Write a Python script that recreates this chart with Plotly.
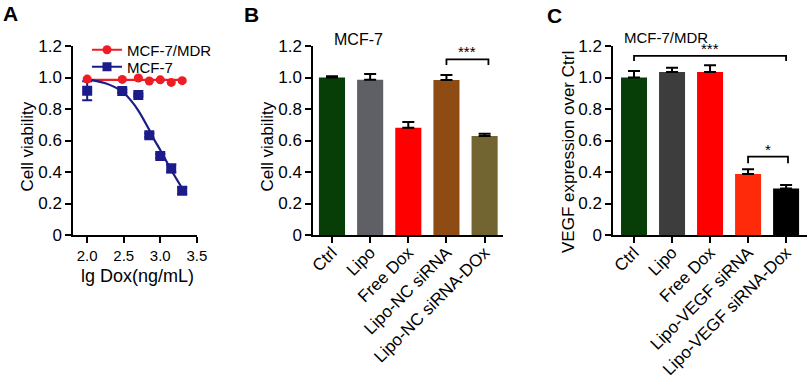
import plotly.graph_objects as go

FONT = "Arial, Liberation Sans, sans-serif"

# ---------------- Panel A data ----------------
lg_dox = [2.0, 2.48, 2.7, 2.85, 3.0, 3.15, 3.3]
mdr_viab = [0.99, 0.988, 0.997, 0.978, 0.985, 0.969, 0.98]
mdr_err = [0.005, 0.005, 0.005, 0.005, 0.005, 0.005, 0.005]
mcf7_viab = [0.916, 0.914, 0.889, 0.633, 0.502, 0.423, 0.281]
mcf7_err = [0.06, 0.01, 0.008, 0.012, 0.012, 0.025, 0.02]
# fitted curves
mcf7_fit_x = [2.0, 2.25, 2.48, 2.6, 2.7, 2.85, 2.92, 3.0, 3.15, 3.3]
mcf7_fit_y = [0.988, 0.963, 0.91, 0.853, 0.79, 0.667, 0.603, 0.54, 0.413, 0.297]
mdr_fit_x = [2.0, 3.3]
mdr_fit_y = [0.985, 0.985]

# ---------------- Panel B data ----------------
b_cats = ["Ctrl", "Lipo", "Free Dox", "Lipo-NC siRNA", "Lipo-NC siRNA-DOx"]
b_vals = [1.0, 0.985, 0.681, 0.984, 0.629]
b_errs = [0.008, 0.037, 0.036, 0.032, 0.014]
b_colors = ["#073d07", "#5f5f66", "#ff0000", "#8e4b14", "#736532"]

# ---------------- Panel C data ----------------
c_cats = ["Ctrl", "Lipo", "Free Dox", "Lipo-VEGF siRNA", "Lipo-VEGF siRNA-Dox"]
c_vals = [1.0, 1.035, 1.035, 0.387, 0.296]
c_errs = [0.042, 0.027, 0.042, 0.03, 0.021]
c_colors = ["#073d07", "#3d3d3d", "#ff0000", "#ff2a0a", "#000000"]

y_tickvals = [0, 0.2, 0.4, 0.6, 0.8, 1.0, 1.2]
y_ticktext = ["0", "0.2", "0.4", "0.6", "0.8", "1.0", "1.2"]
a_xtickvals = [2.0, 2.5, 3.0, 3.5]

RED = "#ee1c24"
BLUE = "#1b1b8a"

fig = go.Figure()

# Panel A
fig.add_trace(go.Scatter(x=mdr_fit_x, y=mdr_fit_y, mode="lines",
                         line=dict(color=RED, width=2.2), showlegend=False,
                         xaxis="x", yaxis="y", hoverinfo="skip"))
fig.add_trace(go.Scatter(x=mcf7_fit_x, y=mcf7_fit_y, mode="lines",
                         line=dict(color=BLUE, width=2.2, shape="spline"),
                         showlegend=False, xaxis="x", yaxis="y", hoverinfo="skip"))
fig.add_trace(go.Scatter(x=lg_dox, y=mcf7_viab, mode="markers",
                         marker=dict(symbol="square", size=10, color=BLUE),
                         error_y=dict(type="data", array=mcf7_err, color=BLUE,
                                      thickness=2, width=5),
                         showlegend=False, xaxis="x", yaxis="y"))
fig.add_trace(go.Scatter(x=lg_dox, y=mdr_viab, mode="markers",
                         marker=dict(symbol="circle", size=9, color=RED),
                         error_y=dict(type="data", array=mdr_err, color=RED,
                                      thickness=2, width=4),
                         showlegend=False, xaxis="x", yaxis="y"))
# legend entries
fig.add_trace(go.Scatter(x=[None], y=[None], mode="lines+markers", name="MCF-7/MDR",
                         line=dict(color=RED, width=2.2),
                         marker=dict(symbol="circle", size=9, color=RED),
                         xaxis="x", yaxis="y", legend="legend"))
fig.add_trace(go.Scatter(x=[None], y=[None], mode="lines+markers", name="MCF-7",
                         line=dict(color=BLUE, width=2.2),
                         marker=dict(symbol="square", size=9, color=BLUE),
                         xaxis="x", yaxis="y", legend="legend2"))

# Panel B
fig.add_trace(go.Bar(x=b_cats, y=b_vals, marker=dict(color=b_colors, line=dict(width=0)),
                     error_y=dict(type="data", array=b_errs, arrayminus=[0] * len(b_errs),
                                  color="black", thickness=2, width=6),
                     width=0.684, showlegend=False, xaxis="x2", yaxis="y2"))
# Panel C
fig.add_trace(go.Bar(x=c_cats, y=c_vals, marker=dict(color=c_colors, line=dict(width=0)),
                     error_y=dict(type="data", array=c_errs, arrayminus=[0] * len(c_errs),
                                  color="black", thickness=2, width=6),
                     width=0.684, showlegend=False, xaxis="x3", yaxis="y3"))

y0, y1 = (379 - 235) / 379, (379 - 46) / 379

common_y = dict(range=[0, 1.2], tickvals=y_tickvals, ticktext=y_ticktext,
                showline=True, linecolor="black", linewidth=2, ticks="outside",
                ticklen=6, tickwidth=2, tickcolor="black", showgrid=False,
                zeroline=False, tickfont=dict(size=17, color="black", family=FONT),
                domain=[y0, y1], automargin=False)
common_x = dict(showline=True, linecolor="black", linewidth=2, ticks="outside",
                ticklen=6, tickwidth=2, tickcolor="black", showgrid=False,
                zeroline=False, automargin=False)

fig.update_layout(
    width=810, height=379,
    margin=dict(l=0, r=0, t=0, b=0, pad=0, autoexpand=False),
    paper_bgcolor="white", plot_bgcolor="white",
    font=dict(family=FONT, color="black"),
    xaxis=dict(**common_x, range=[1.81, 3.5], tickvals=a_xtickvals,
               ticktext=["2.0", "2.5", "3.0", "3.5"],
               tickfont=dict(size=15, color="black", family=FONT),
               domain=[73.3 / 810, 196.8 / 810], anchor="y"),
    yaxis=dict(**common_y, anchor="x"),
    xaxis2=dict(**common_x, type="category", range=[-0.49, 4.49], tickangle=-45,
                tickfont=dict(size=17, color="black", family=FONT), ticklabelstandoff=-7,
                domain=[313.3 / 810, 503.3 / 810], anchor="y2"),
    yaxis2=dict(**common_y, anchor="x2"),
    xaxis3=dict(**common_x, type="category", range=[-0.545, 4.55], tickangle=-45,
                tickfont=dict(size=17, color="black", family=FONT), ticklabelstandoff=-7,
                domain=[613.3 / 810, 807 / 810], anchor="y3"),
    yaxis3=dict(**common_y, anchor="x3"),
    legend=dict(x=87 / 810, y=(379 - 50) / 379, xanchor="left", yanchor="middle",
                font=dict(size=15, color="black"), bgcolor="rgba(0,0,0,0)",
                itemwidth=30, tracegroupgap=0),
    legend2=dict(x=87 / 810, y=(379 - 67) / 379, xanchor="left", yanchor="middle",
                 font=dict(size=15, color="black"), bgcolor="rgba(0,0,0,0)",
                 itemwidth=30, tracegroupgap=0),
)

ann = []
# panel letters
for letter, px, py in [("A", 10, 14), ("B", 251.5, 14.5), ("C", 554, 15)]:
    ann.append(dict(text=f"<b>{letter}</b>", x=px / 810, y=1 - py / 379, xref="paper",
                    yref="paper", showarrow=False, xanchor="center", yanchor="middle",
                    font=dict(size=21, color="black")))
# y titles
for txt, px, py in [("Cell viability", 27, 146.5), ("Cell viability", 267, 146.5),
                    ("VEGF expression over Ctrl", 568, 152)]:
    ann.append(dict(text=txt, x=px / 810, y=1 - py / 379, xref="paper", yref="paper",
                    showarrow=False, textangle=-90, xanchor="center", yanchor="middle",
                    font=dict(size=17, color="black")))
# x title of panel A
ann.append(dict(text="lg Dox(ng/mL)", x=137 / 810, y=1 - 276 / 379, xref="paper",
                yref="paper", showarrow=False, xanchor="center", yanchor="middle",
                font=dict(size=18, color="black")))
# panel subtitles
ann.append(dict(text="MCF-7", x=358 / 810, y=1 - 39 / 379, xref="paper", yref="paper",
                showarrow=False, xanchor="center", yanchor="middle", font=dict(size=16)))
ann.append(dict(text="MCF-7/MDR", x=622 / 810, y=1 - 37 / 379, xref="paper", yref="paper",
                showarrow=False, xanchor="left", yanchor="middle", font=dict(size=15)))

# significance brackets: (xaxis, yaxis, start idx, end idx, bar y, drop y, label)
brackets = [("x2", "y2", 3.0, 4.1, 1.115, 1.079, "***"),
            ("x3", "y3", 0.0, 4.0, 1.137, 1.105, "***"),
            ("x3", "y3", 3.0, 4.05, 0.497, 0.455, "*")]
shapes = []
for xr, yr, xa, xb, yb, yd, lab in brackets:
    shapes.append(dict(type="path", xref=xr, yref=yr,
                       path=f"M {xa},{yd} L {xa},{yb} L {xb},{yb} L {xb},{yd}",
                       line=dict(color="black", width=1.8)))
    ann.append(dict(text=lab, x=(xa + xb) / 2, y=yb, xref=xr, yref=yr, showarrow=False,
                    xanchor="center", yanchor="bottom", yshift=-3,
                    font=dict(size=15, color="black")))

fig.update_layout(annotations=ann, shapes=shapes)
fig.write_html("out.html",
               config={"displayModeBar": False},
               post_script="document.body.style.margin='0px';"
                           "document.body.style.padding='0px';"
                           "document.body.style.overflow='hidden';")
